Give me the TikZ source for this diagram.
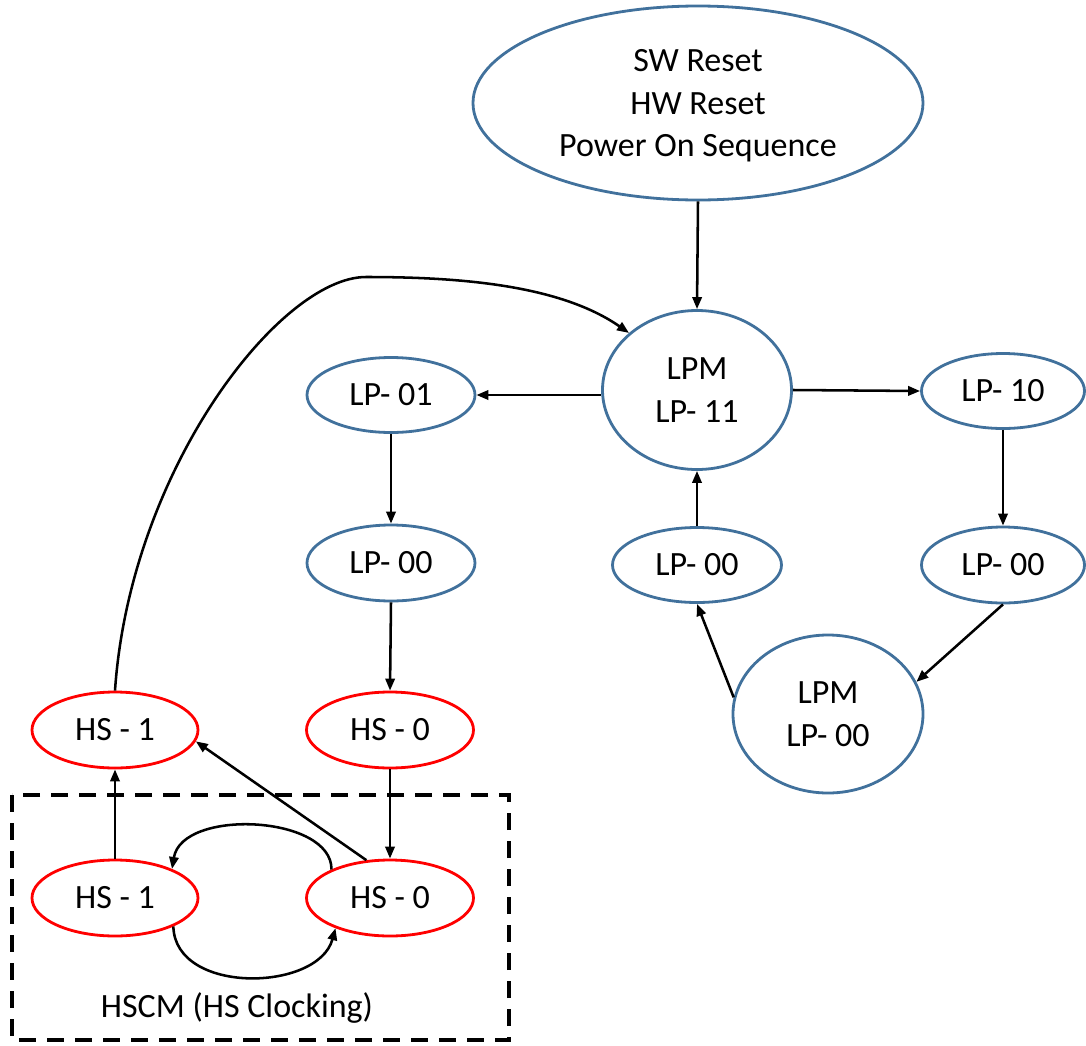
\documentclass[tikz,border=0pt]{standalone}
\usepackage{fontspec}
\setmainfont{Carlito}
\usetikzlibrary{shapes.geometric,arrows.meta}
\definecolor{stblue}{RGB}{65,113,156}
\definecolor{stred}{RGB}{255,0,0}
\tikzset{
  base/.style={ellipse, inner sep=0pt, line width=2.1pt, align=center,
    font=\fontsize{25.5}{32}\selectfont},
  lpnode/.style={base, draw=stblue},
  hsnode/.style={base, draw=stred},
  conn/.style={line width=1.9pt, -{Triangle[length=9pt,width=7pt]}},
}
\begin{document}
\begin{tikzpicture}[x=0.75pt,y=-0.75pt]
\useasboundingbox (0,0) rectangle (1086,1046);
% nodes
\node[lpnode, minimum width=337.5pt, minimum height=145.5pt, text depth=0pt] (top) at (698,103) {SW Reset\\HW Reset\\Power On Sequence};
\node[lpnode, minimum width=141.75pt, minimum height=119.25pt] (lp11) at (697,390) {LPM\\LP- 11};
\node[lpnode, minimum width=126pt, minimum height=56.25pt] (lp01) at (391,395) {LP- 01};
\node[lpnode, minimum width=126pt, minimum height=57pt] (lp00a) at (391,563) {LP- 00};
\node[lpnode, minimum width=122.25pt, minimum height=56.25pt] (lp10) at (1003,391) {LP- 10};
\node[lpnode, minimum width=122.25pt, minimum height=57pt] (lp00c) at (1003,565) {LP- 00};
\node[lpnode, minimum width=126.75pt, minimum height=56.25pt] (lp00b) at (697,565) {LP- 00};
\node[lpnode, minimum width=142.5pt, minimum height=118.5pt] (lpm00) at (828,714) {LPM\\LP- 00};
\node[hsnode, minimum width=124.5pt, minimum height=57pt] (hs1a) at (115,730) {HS - 1};
\node[hsnode, minimum width=125.25pt, minimum height=57pt] (hs0a) at (390,730) {HS - 0};
\node[hsnode, minimum width=124.5pt, minimum height=57pt] (hs1b) at (115,898) {HS - 1};
\node[hsnode, minimum width=125.25pt, minimum height=57pt] (hs0b) at (390,898) {HS - 0};
% dashed frame
\draw[line width=2.6pt, dash pattern=on 13pt off 8pt] (12,795) rectangle (509,1040);
\node[font=\fontsize{25.5}{32}\selectfont] (hscm) at (237,1008) {HSCM (HS Clocking)};
% connectors
\draw[conn] (top.south) -- (lp11.north);
\draw[conn] (lp01.east -| lp11.west) -- (lp01.east);
\draw[conn] (lp11.east) -- (lp10.west);
\draw[conn] (lp10.south) -- (lp00c.north);
\draw[conn] (lp00c.south) -- (lpm00.20);
\draw[conn] (lpm00.170) -- (lp00b.south);
\draw[conn] (lp00b.north) -- (lp11.south);
\draw[conn] (lp01.south) -- (lp00a.north);
\draw[conn] (lp00a.south) -- (hs0a.north);
\draw[conn] (hs0a.south) -- (hs0b.north);
\draw[conn] (hs1b.north) -- (hs1a.south);
\draw[conn] (hs0b.122) -- (hs1a.-8);
\draw[conn] (hs0b.154) .. controls (332,815) and (182,808) .. (hs1b.27);
\draw[conn] (hs1b.-26) .. controls (175,995) and (318,992) .. (hs0b.209);
\draw[conn] (hs1a.north) .. controls (130,470) and (280,277) .. (366,277)
  .. controls (460,277) and (560,285) .. (lp11.140);
\end{tikzpicture}
\end{document}
